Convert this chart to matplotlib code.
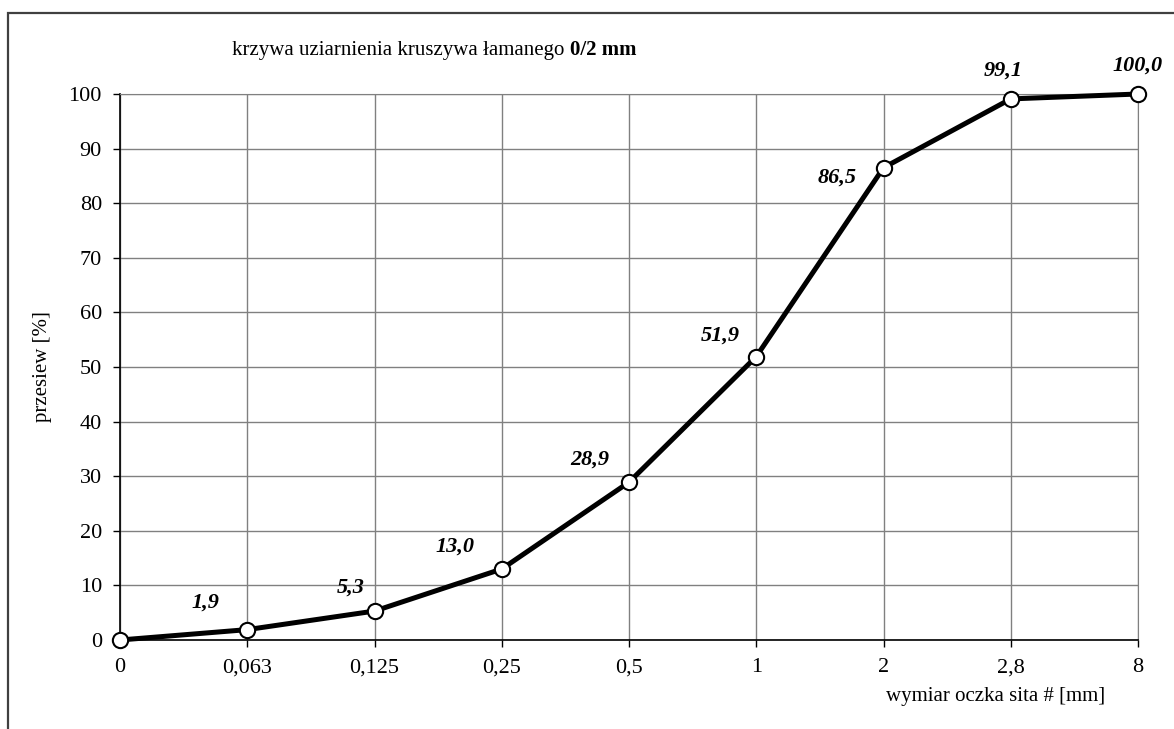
import matplotlib
matplotlib.use('Agg')
import matplotlib.pyplot as plt
from matplotlib.patches import Rectangle

sieves = ['0', '0,063', '0,125', '0,25', '0,5', '1', '2', '2,8', '8']
passing = [0.0, 1.9, 5.3, 13.0, 28.9, 51.9, 86.5, 99.1, 100.0]
value_labels = ['', '1,9', '5,3', '13,0', '28,9', '51,9', '86,5', '99,1', '100,0']

# label offsets in pixels (dx, dy) relative to each point
label_offsets = [(0, 0), (-42, 27), (-24, 23), (-47, 22), (-39, 23),
                 (-36, 21), (-46, -10), (-8, 28), (0, 28)]

plt.rcParams['font.family'] = ['Liberation Serif', 'DejaVu Serif']

fig = plt.figure(figsize=(11.74, 7.29), dpi=100)
ax = fig.add_axes([120 / 1174, 1 - 640 / 729, (1138 - 120) / 1174, (640 - 94) / 729])

x = list(range(len(sieves)))
ax.plot(x, passing, color='black', lw=3.6, marker='o', markersize=11,
        markerfacecolor='white', markeredgecolor='black', markeredgewidth=1.5,
        clip_on=False, zorder=5)

for xi, yi, lab, off in zip(x, passing, value_labels, label_offsets):
    if lab:
        ax.annotate(lab, (xi, yi), xytext=off, textcoords='offset pixels',
                    ha='center', va='center', fontsize=16,
                    fontweight='bold', fontstyle='italic')

ax.set_xlim(0, len(sieves) - 1)
ax.set_ylim(0, 100)
ax.set_xticks(x)
ax.set_xticklabels(sieves)
ax.set_yticks(range(0, 101, 10))
ax.tick_params(labelsize=16, length=5, width=1, direction='out', colors='black')
ax.tick_params(axis='x', pad=8)
ax.tick_params(axis='y', pad=8)
ax.grid(True, color='#808080', lw=1)
ax.set_axisbelow(True)
for s in ['top', 'right']:
    ax.spines[s].set_color('#808080')
for s in ['left', 'bottom']:
    ax.spines[s].set_color('black')
    ax.spines[s].set_linewidth(1.2)

fig.text(42 / 1174, 1 - 367 / 729, 'przesiew [%]', rotation=90,
         ha='center', va='center', fontsize=15)
fig.text(996 / 1174, 1 - 697 / 729, 'wymiar oczka sita # [mm]',
         ha='center', va='center', fontsize=15)

# title in two parts: normal + bold
t1 = fig.text(232 / 1174, 1 - 50 / 729, 'krzywa uziarnienia kruszywa łamanego ',
              ha='left', va='center', fontsize=15)
fig.canvas.draw()
bb = t1.get_window_extent()
fig.text(bb.x1 / fig.bbox.width, 1 - 50 / 729, '0/2 mm', ha='left', va='center',
         fontsize=15, fontweight='bold')

# outer chart frame (only left and top visible)
fig.patches.append(Rectangle((8 / 1174, -0.2), 1.5, 1.2 - 13 / 729,
                             transform=fig.transFigure, fill=False,
                             edgecolor='#404040', lw=1.6))

fig.savefig('out.png', dpi=100)
